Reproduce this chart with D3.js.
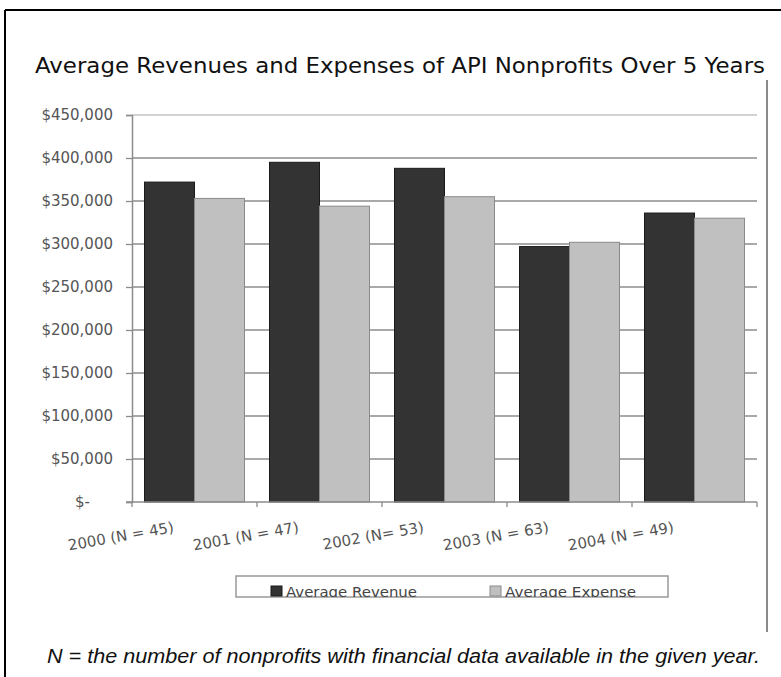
<!DOCTYPE html>
<html><head><meta charset="utf-8">
<script src="https://cdn.jsdelivr.net/npm/d3@7"></script>
<style>body{margin:0;background:#fff}svg{display:block}</style>
</head><body>
<svg id="c" width="781" height="677"></svg>
<script>
const categories = ["2000 (N = 45)", "2001 (N = 47)", "2002 (N= 53)", "2003 (N = 63)", "2004 (N = 49)"];
const seriesNames = ["Average Revenue", "Average Expense"];
const revenue = [372000, 395000, 388000, 297000, 336000];
const expense = [353000, 344000, 355000, 302000, 330000];
const yTicks = [0, 50000, 100000, 150000, 200000, 250000, 300000, 350000, 400000, 450000];
const colors = ["#333333", "#c0c0c0"];
const strokes = ["#1a1a1a", "#8a8a8a"];

(function(){
const svg = d3.select("#c");
const pL = 132, pR = 757, pT = 115, pB = 502;

// outer frame
svg.append("line").attr("x1",5).attr("x2",781).attr("y1",10).attr("y2",10).attr("stroke","#000").attr("stroke-width",2);
svg.append("line").attr("x1",5).attr("x2",5).attr("y1",10).attr("y2",677).attr("stroke","#000").attr("stroke-width",2);
svg.append("line").attr("x1",767).attr("x2",767).attr("y1",80).attr("y2",632).attr("stroke","#8a8a8a").attr("stroke-width",2);

svg.append("text").attr("x",35).attr("y",73)
  .attr("font-family","DejaVu Sans").attr("font-size",21).attr("fill","#111")
  .attr("textLength",730).attr("lengthAdjust","spacingAndGlyphs")
  .text("Average Revenues and Expenses of API Nonprofits Over 5 Years");

const y = d3.scaleLinear().domain([0,450000]).range([pB, pT]);
const x0 = d3.scaleBand().domain(categories).range([pL, pR]).paddingInner(0.2).paddingOuter(0.1);
const x1 = d3.scaleBand().domain(seriesNames).range([0, x0.bandwidth()]);

// gridlines
svg.append("g").selectAll("line").data(yTicks.filter(d=>d>0)).join("line")
  .attr("x1",pL).attr("x2",pR).attr("y1",d=>y(d)).attr("y2",d=>y(d))
  .attr("stroke",d=>d===450000?"#c4c4c4":"#8c8c8c").attr("stroke-width",1.3);

// bars
const data = categories.map((c,i)=>({c, vals:[revenue[i], expense[i]]}));
const g = svg.append("g");
data.forEach(d=>{
  d.vals.forEach((v,j)=>{
    g.append("rect").attr("x", x0(d.c)+x1(seriesNames[j])).attr("y", y(v))
      .attr("width", x1.bandwidth()).attr("height", y(0)-y(v))
      .attr("fill", colors[j]).attr("stroke", strokes[j]).attr("stroke-width",1);
  });
});

// y axis
const yAxis = d3.axisLeft(y).tickValues(yTicks).tickSize(6).tickPadding(13)
  .tickFormat(d=> d===0 ? "" : "$" + d3.format(",")(d));
const ya = svg.append("g").attr("transform",`translate(${pL},0)`).call(yAxis);
ya.select(".domain").attr("stroke","#8c8c8c").attr("stroke-width",1.5);
ya.selectAll(".tick line").attr("stroke","#8c8c8c").attr("stroke-width",1.3);
ya.selectAll("text").attr("font-family","DejaVu Sans").attr("font-size",15).attr("fill","#555");
svg.append("text").attr("x",90).attr("y",y(0)+5).attr("text-anchor","end")
  .attr("font-family","DejaVu Sans").attr("font-size",15).attr("fill","#555").text("$-");

// x axis
const xa = svg.append("g").attr("transform",`translate(0,${pB})`);
xa.append("line").attr("x1",pL-6).attr("x2",pR).attr("stroke","#8c8c8c").attr("stroke-width",1.5);
const bounds = categories.map(c=>x0(c)-x0.step()*x0.paddingInner()/2).concat([pR]);
xa.selectAll("line.tk").data(bounds).join("line").attr("class","tk")
  .attr("x1",d=>d).attr("x2",d=>d).attr("y1",0).attr("y2",5).attr("stroke","#8c8c8c").attr("stroke-width",1.3);
xa.selectAll("text").data(categories).join("text")
  .attr("transform",d=>`translate(${x0(d)+x0.bandwidth()/2-20},${30}) rotate(-10)`)
  .attr("text-anchor","end").attr("font-family","DejaVu Sans").attr("font-size",15).attr("fill","#555")
  .text(d=>d);

// legend
const lg = svg.append("g");
lg.append("defs").append("clipPath").attr("id","lc").append("rect").attr("x",236).attr("y",576).attr("width",432).attr("height",21);
lg.append("rect").attr("x",236).attr("y",576).attr("width",432).attr("height",21).attr("fill","#fff").attr("stroke","#999").attr("stroke-width",1.5);
const lx = [271, 490];
seriesNames.forEach((n,j)=>{
  lg.append("rect").attr("x",lx[j]).attr("y",586).attr("width",11).attr("height",10).attr("fill",colors[j]).attr("stroke",strokes[j]);
  lg.append("text").attr("x",lx[j]+15).attr("y",597).attr("clip-path","url(#lc)")
    .attr("font-family","DejaVu Sans").attr("font-size",14.5).attr("fill","#444")
    .attr("textLength",131).attr("lengthAdjust","spacingAndGlyphs").text(n);
});

// footnote
svg.append("text").attr("x",47).attr("y",663).attr("font-family","Liberation Sans").attr("font-style","italic")
  .attr("font-size",20).attr("fill","#111")
  .attr("textLength",713).attr("lengthAdjust","spacingAndGlyphs")
  .text("N = the number of nonprofits with financial data available in the given year.");
})();
</script>
</body></html>
